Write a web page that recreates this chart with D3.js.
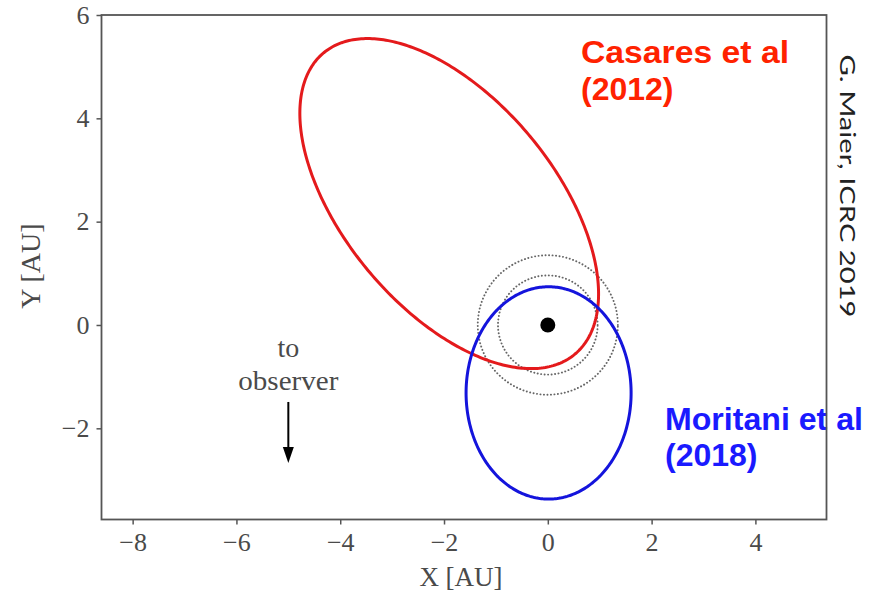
<!DOCTYPE html>
<html><head><meta charset="utf-8">
<script src="https://cdn.jsdelivr.net/npm/d3@7"></script>
<style>body{margin:0;background:#fff}svg{display:block}</style>
</head><body>
<svg id="c" width="872" height="596"></svg>
<script>
// ---- data ----
const xTicks = [-8, -6, -4, -2, 0, 2, 4];
const yTicks = [-2, 0, 2, 4, 6];
const xDomain = [-8.6, 5.37];
const yDomain = [-3.765, 6.0];
// orbit ellipses: centre x, centre y, semi-axis a, semi-axis b, rotation (deg)
const orbitNames = ["Casares et al (2012)", "Moritani et al (2018)"];
const orbitCx = [-1.9, 0.015];
const orbitCy = [2.35, -1.315];
const orbitA = [3.79, 1.59];
const orbitB = [2.03, 2.055];
const orbitRot = [-50.4, 0];
const orbitColors = ["#e41a1c", "#1414dc"];
// dotted reference circles around the star (AU)
const circleRadii = [0.96, 1.35];
// observer arrow
const arrowX = -5, arrowY0 = -1.49, arrowY1 = -2.67;

// ---- layout ----
const svg = d3.select("#c");
const x = d3.scaleLinear().domain(xDomain).range([101.5, 826.5]);
const y = d3.scaleLinear().domain(yDomain).range([519.5, 15]);
const axisColor = "#555";
const textGray = "#4a4a4a";
const serif = "'Liberation Serif','Times New Roman',serif";

function ellipsePts(cx, cy, a, b, rotDeg) {
  const th = rotDeg * Math.PI / 180, c = Math.cos(th), s = Math.sin(th);
  const n = 360, pts = [];
  for (let i = 0; i <= n; i++) {
    const t = 2 * Math.PI * i / n;
    const ex = a * Math.cos(t), ey = b * Math.sin(t);
    pts.push([cx + ex * c - ey * s, cy + ex * s + ey * c]);
  }
  return pts;
}
const line = d3.line().x(d => x(d[0])).y(d => y(d[1]));

// dotted circles
circleRadii.forEach(r => {
  svg.append("path")
    .attr("d", line(ellipsePts(0, 0, r, r, 0)))
    .attr("fill", "none").attr("stroke", "#666")
    .attr("stroke-width", 1.9).attr("stroke-linecap", "round")
    .attr("stroke-dasharray", "0.1 3.4");
});

// orbits
orbitNames.forEach((nm, i) => {
  svg.append("path")
    .attr("d", line(ellipsePts(orbitCx[i], orbitCy[i], orbitA[i], orbitB[i], orbitRot[i])))
    .attr("fill", "none").attr("stroke", orbitColors[i]).attr("stroke-width", 3);
});

// star
svg.append("circle").attr("cx", x(0)).attr("cy", y(0)).attr("r", 7.5).attr("fill", "#000");

// observer annotation
svg.append("text").attr("x", x(arrowX)).attr("y", y(-0.62)).attr("text-anchor", "middle")
  .attr("font-family", serif).attr("font-size", 28).attr("fill", textGray).text("to");
svg.append("text").attr("x", x(arrowX)).attr("y", y(-1.26)).attr("text-anchor", "middle")
  .attr("font-family", serif).attr("font-size", 28).attr("fill", textGray)
  .attr("textLength", 100).attr("lengthAdjust", "spacingAndGlyphs").text("observer");
svg.append("line").attr("x1", x(arrowX)).attr("x2", x(arrowX))
  .attr("y1", y(arrowY0)).attr("y2", y(arrowY1) - 12)
  .attr("stroke", "#000").attr("stroke-width", 2);
{
  const ax = x(arrowX), ay = y(arrowY1);
  svg.append("path").attr("d", `M${ax},${ay} L${ax - 5.5},${ay - 16} L${ax + 5.5},${ay - 16} Z`).attr("fill", "#000");
}

// labels for orbits
const boldSans = "'Liberation Sans',Arial,sans-serif";
function label(txt, xx, yy, col, len) {
  const t = svg.append("text").attr("x", xx).attr("y", yy).attr("font-family", boldSans)
    .attr("font-weight", "bold").attr("font-size", 32).attr("fill", col).text(txt);
  if (len) t.attr("textLength", len).attr("lengthAdjust", "spacingAndGlyphs");
}
label("Casares et al", 581, 63, "#ff2200", 208);
label("(2012)", 581, 100, "#ff2200");
label("Moritani et al", 665, 430, "#1a1aff", 198);
label("(2018)", 665, 466, "#1a1aff");

// axes
const xAxis = d3.axisBottom(x).tickValues(xTicks).tickSize(5).tickPadding(6);
const yAxis = d3.axisLeft(y).tickValues(yTicks).tickSize(5).tickPadding(7);
const gx = svg.append("g").attr("transform", `translate(0,${y.range()[0]})`).call(xAxis);
const gy = svg.append("g").attr("transform", `translate(${x.range()[0]},0)`).call(yAxis);
[gx, gy].forEach(g => {
  g.select(".domain").remove();
  g.selectAll(".tick line").attr("stroke", axisColor).attr("stroke-width", 1.5);
  g.selectAll(".tick text").attr("font-family", serif).attr("font-size", 26).attr("fill", textGray);
});
gx.selectAll(".tick text").attr("dy", "0.8em");

// frame
svg.append("rect").attr("x", x.range()[0]).attr("y", y.range()[1])
  .attr("width", x.range()[1] - x.range()[0]).attr("height", y.range()[0] - y.range()[1])
  .attr("fill", "none").attr("stroke", axisColor).attr("stroke-width", 1.8);

// axis titles
svg.append("text").attr("x", 461).attr("y", 586).attr("text-anchor", "middle")
  .attr("font-family", serif).attr("font-size", 27).attr("fill", textGray).text("X [AU]");
svg.append("text").attr("transform", "translate(40,266) rotate(-90)").attr("text-anchor", "middle")
  .attr("font-family", serif).attr("font-size", 28).attr("fill", textGray).text("Y [AU]");

// credit
svg.append("text").attr("transform", "translate(840,186) rotate(90)").attr("text-anchor", "middle")
  .attr("font-family", "Lato,'Noto Sans',sans-serif").attr("font-size", 22).attr("fill", "#222")
  .attr("textLength", 263).attr("lengthAdjust", "spacingAndGlyphs")
  .text("G. Maier, ICRC 2019");
</script>
</body></html>
